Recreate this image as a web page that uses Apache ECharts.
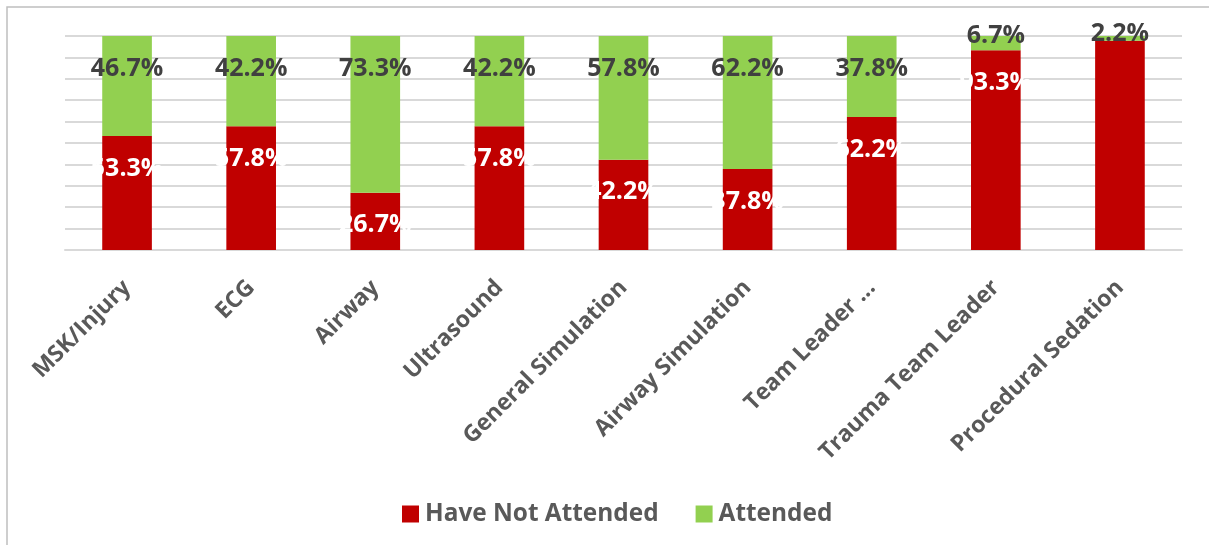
<!DOCTYPE html>
<html>
<head>
<meta charset="utf-8">
<script src="https://cdn.jsdelivr.net/npm/echarts@6/dist/echarts.min.js"></script>
<style>
html,body{margin:0;padding:0;background:#fff;}
#c{width:1209px;height:545px;}
</style>
</head>
<body>
<div id="c"></div>
<script>
const categories = ['MSK/Injury','ECG','Airway','Ultrasound','General Simulation','Airway Simulation','Team Leader ...','Trauma Team Leader','Procedural Sedation'];
const haveNotAttended = [53.3, 57.8, 26.7, 57.8, 42.2, 37.8, 62.2, 93.3, 97.8];
const attended = [46.7, 42.2, 73.3, 42.2, 57.8, 62.2, 37.8, 6.7, 2.2];
const yTicks = [0,10,20,30,40,50,60,70,80,90,100];

const FONT = '"Open Sans", "Noto Sans", sans-serif';
const fmt = p => p.value.toFixed(1) + '%';

const redData = haveNotAttended.map(v => {
  if (v > 95) return {value: v, label: {show: false}};
  return v;
});
const greenData = attended.map(v => {
  if (v < 10) return {value: v, label: {position: 'top', distance: v < 4 ? -10 : -12}};
  return v;
});

const chart = echarts.init(document.getElementById('c'));
chart.setOption({
  animation: false,
  backgroundColor: '#fff',
  graphic: [{
    type: 'rect', silent: true, z: -1,
    shape: {x: 7, y: 7, width: 1300, height: 700},
    style: {fill: 'none', stroke: '#bfbfbf', lineWidth: 1.5}
  }],
  grid: {left: 65, right: 27, top: 36, bottom: 295, containLabel: false},
  legend: {
    left: 397, top: 497,
    itemWidth: 17, itemHeight: 17, itemGap: 37,
    icon: 'rect',
    textStyle: {fontFamily: FONT, fontSize: 24.4, fontWeight: 'bold', color: '#595959', padding: [0, 0, 0, 1]},
    data: ['Have Not Attended', 'Attended']
  },
  xAxis: {
    type: 'category', data: categories,
    axisLine: {lineStyle: {color: '#d9d9d9', width: 2}},
    axisTick: {show: false},
    axisLabel: {rotate: 45, interval: 0, margin: 34, verticalAlign: 'middle',
      fontFamily: FONT, fontSize: 23, fontWeight: 'bold', color: '#595959'}
  },
  yAxis: {
    type: 'value', min: yTicks[0], max: yTicks[yTicks.length - 1], interval: 10,
    axisLabel: {show: false}, axisLine: {show: false}, axisTick: {show: false},
    splitLine: {lineStyle: {color: '#d9d9d9', width: 2}}
  },
  series: [{
    name: 'Have Not Attended', type: 'bar', stack: 'a', barWidth: '40%',
    itemStyle: {color: '#C00000'},
    data: redData,
    label: {show: true, position: 'insideTop', distance: 20, formatter: fmt,
      fontFamily: FONT, fontSize: 25, fontWeight: 'bold', color: '#ffffff'}
  }, {
    name: 'Attended', type: 'bar', stack: 'a', barWidth: '40%',
    itemStyle: {color: '#92D050'},
    data: greenData,
    label: {show: true, position: 'insideTop', distance: 20, formatter: fmt,
      fontFamily: FONT, fontSize: 25, fontWeight: 'bold', color: '#404040'}
  }]
});
</script>
</body>
</html>
